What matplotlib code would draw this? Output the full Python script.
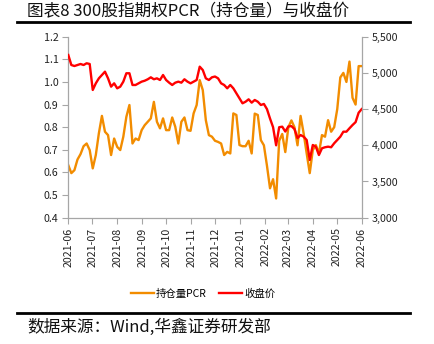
import numpy as np
import pandas as pd
import matplotlib
matplotlib.use("Agg")
from matplotlib import pyplot as plt
from matplotlib.lines import Line2D
import matplotlib.dates as mdates

plt.rcParams['font.family'] = ['Noto Sans CJK SC', 'DejaVu Sans']

# 300 index option put/call ratio (open interest) and index close
pcr = [0.632, 0.597, 0.610, 0.657, 0.681, 0.716, 0.728, 0.699, 0.618, 0.677,
       0.773, 0.850, 0.780, 0.765, 0.677, 0.750, 0.713, 0.699, 0.758, 0.846,
       0.898, 0.728, 0.750, 0.743, 0.787, 0.809, 0.824, 0.839, 0.912, 0.824,
       0.795, 0.839, 0.787, 0.787, 0.843, 0.802, 0.728, 0.824, 0.843, 0.787,
       0.784, 0.861, 0.898, 1.008, 0.964, 0.831, 0.765, 0.758, 0.740, 0.735,
       0.728, 0.677, 0.691, 0.684, 0.861, 0.854, 0.721, 0.716, 0.716, 0.740,
       0.684, 0.860, 0.854, 0.743, 0.720, 0.630, 0.530, 0.570, 0.485, 0.740,
       0.770, 0.690, 0.800, 0.830, 0.800, 0.720, 0.850, 0.773, 0.684, 0.597,
       0.699, 0.721, 0.684, 0.765, 0.758, 0.831, 0.780, 0.800, 0.880, 1.020,
       1.040, 1.000, 1.090, 0.930, 0.900, 1.070, 1.070]

close = [5247, 5109, 5095, 5109, 5123, 5109, 5133, 5123, 4764, 4856,
         4925, 4971, 5017, 4925, 4810, 4856, 4787, 4810, 4879, 4995,
         4995, 4833, 4833, 4856, 4879, 4892, 4912, 4939, 4912, 4925,
         4902, 4971, 4902, 4865, 4833, 4865, 4879, 4865, 4912, 4879,
         4856, 4879, 4902, 5086, 5040, 4925, 4902, 4939, 4950, 4925,
         4856, 4833, 4787, 4833, 4787, 4718, 4649, 4580, 4602, 4635,
         4589, 4626, 4602, 4557, 4571, 4500, 4370, 4250, 4000, 4250,
         4257, 4190, 4260, 4265, 4225, 4100, 4142, 4119, 4073, 3797,
         4004, 3981, 3866, 3959, 3973, 3981, 3973, 4028, 4073, 4119,
         4188, 4188, 4235, 4280, 4320, 4450, 4500]

dates = pd.date_range('2021-06-01', '2022-06-01', periods=len(pcr))
month_ticks = pd.date_range('2021-06-01', '2022-06-01', freq='MS')

orange = '#F28C00'
red = '#FF0000'
grey = '#A6A6A6'

fig = plt.figure(figsize=(4.34, 3.44), dpi=100)
ax = fig.add_axes([68.3/434, 1-217.7/344, (361.7-68.3)/434, (217.7-36.7)/344])
ax2 = ax.twinx()

l1, = ax.plot(dates, pcr, color=orange, lw=1.7, solid_joinstyle='round')
l2, = ax2.plot(dates, close, color=red, lw=1.7, solid_joinstyle='round')

ax.set_xlim(month_ticks[0], month_ticks[-1])
ax.set_ylim(0.4, 1.2)
ax.set_yticks(np.arange(0.4, 1.21, 0.1))
ax.yaxis.set_major_formatter(plt.FuncFormatter(lambda v, p: f'{v:.1f}'))
ax2.set_ylim(3000, 5500)
ax2.set_yticks(np.arange(3000, 5501, 500))
ax2.yaxis.set_major_formatter(plt.FuncFormatter(lambda v, p: f'{v:,.0f}'))

ax.set_xticks(month_ticks)
ax.xaxis.set_major_formatter(mdates.DateFormatter('%Y-%m'))
for lab in ax.get_xticklabels():
    lab.set_rotation(90)

for a in (ax, ax2):
    a.spines['top'].set_visible(False)
    for s in ('left', 'right', 'bottom'):
        a.spines[s].set_color(grey)
        a.spines[s].set_linewidth(0.9)
    a.tick_params(axis='both', direction='out', length=4, width=0.8,
                  color=grey, labelsize=7.7, labelcolor='#222222', pad=3)
ax.spines['right'].set_visible(False)
ax2.spines['left'].set_visible(False)
ax2.spines['bottom'].set_visible(False)

fig.legend([l1, l2], ['持仓量PCR', '收盘价'], loc='center',
           bbox_to_anchor=(203/434, 1-294/344), ncol=2, frameon=False,
           fontsize=7.5, handlelength=2.2, handletextpad=0.2, columnspacing=1.2)

# header and footer
fig.text(27/434, 1-12/344, '图表8 300股指期权PCR（持仓量）与收盘价',
         fontsize=12, va='center', ha='left', color='#111111')
fig.add_artist(Line2D([17/434, 410/434], [1-21.5/344]*2, color='black', lw=2))
fig.add_artist(Line2D([17/434, 410/434], [1-313/344]*2, color='black', lw=2))
fig.text(27/434, 1-327/344, '数据来源：Wind,华鑫证券研发部',
         fontsize=12, va='center', ha='left', color='#111111')

plt.savefig('out.png', dpi=100)
